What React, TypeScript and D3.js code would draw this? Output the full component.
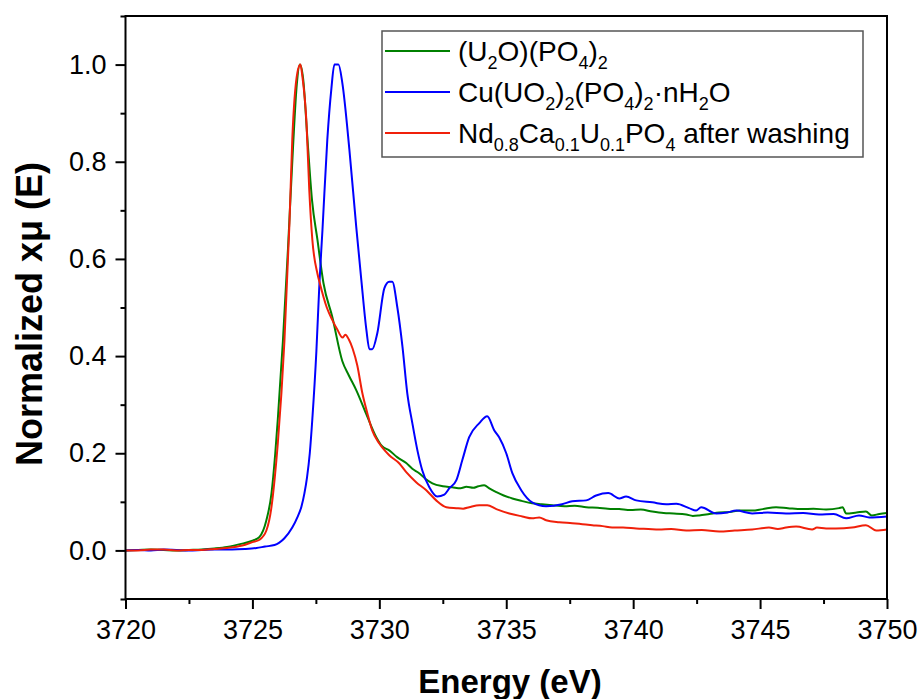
import React, { useEffect, useRef } from 'react';
import * as d3 from 'd3';

// [energy (eV), normalized mu]
const u2oData: [number, number][] = [
  [3720.0, 0.0], [3720.5, 0.001], [3721.0, 0.002], [3721.5, 0.001], [3722.0, 0.0], [3722.5, 0.001],
  [3723.0, 0.002], [3723.5, 0.004], [3724.0, 0.007], [3724.6, 0.014], [3725.0, 0.02], [3725.28, 0.028],
  [3725.55, 0.062], [3725.75, 0.117], [3725.9, 0.2], [3726.0, 0.27], [3726.2, 0.43], [3726.4, 0.62],
  [3726.6, 0.83], [3726.75, 0.96], [3726.87, 1.0], [3727.0, 0.97], [3727.17, 0.845], [3727.35, 0.72],
  [3727.56, 0.64], [3727.8, 0.55], [3728.15, 0.48], [3728.54, 0.39], [3728.8, 0.36], [3729.09, 0.33],
  [3729.49, 0.28], [3729.88, 0.233], [3730.1, 0.215], [3730.39, 0.206], [3730.7, 0.192], [3731.06, 0.18],
  [3731.3, 0.168], [3731.57, 0.159], [3731.8, 0.148], [3732.09, 0.138], [3732.5, 0.132], [3732.87, 0.13],
  [3733.2, 0.128], [3733.43, 0.131], [3733.7, 0.129], [3733.9, 0.132], [3734.13, 0.134], [3734.35, 0.127],
  [3734.61, 0.12], [3734.9, 0.113], [3735.24, 0.107], [3735.6, 0.102], [3736.02, 0.097], [3736.4, 0.095],
  [3736.81, 0.093], [3737.3, 0.091], [3737.7, 0.092], [3738.15, 0.089], [3738.6, 0.088], [3739.0, 0.086],
  [3739.45, 0.085], [3739.9, 0.083], [3740.3, 0.084], [3740.75, 0.08], [3741.2, 0.077], [3741.6, 0.076],
  [3742.09, 0.074], [3742.35, 0.071], [3742.6, 0.072], [3743.0, 0.075], [3743.39, 0.078], [3743.8, 0.079],
  [3744.2, 0.082], [3744.69, 0.082], [3745.1, 0.085], [3745.63, 0.089], [3746.1, 0.087], [3746.65, 0.085],
  [3747.1, 0.086], [3747.6, 0.084], [3748.11, 0.087], [3748.25, 0.089], [3748.39, 0.076], [3748.8, 0.078],
  [3749.17, 0.08], [3749.4, 0.072], [3749.7, 0.075], [3750.0, 0.077],
];

const cuData: [number, number][] = [
  [3720.0, 0.0], [3720.5, 0.001], [3721.0, 0.0], [3721.5, 0.002], [3722.0, 0.001], [3722.5, 0.0],
  [3723.0, 0.001], [3723.5, 0.002], [3724.2, 0.002], [3724.7, 0.003], [3725.16, 0.005], [3725.5, 0.008],
  [3725.87, 0.011], [3726.06, 0.016], [3726.26, 0.025], [3726.57, 0.047], [3726.77, 0.068], [3726.93, 0.09],
  [3727.05, 0.118], [3727.15, 0.15], [3727.26, 0.2], [3727.36, 0.27], [3727.52, 0.41], [3727.64, 0.55],
  [3727.76, 0.66], [3727.95, 0.845], [3728.11, 0.95], [3728.23, 1.0], [3728.39, 1.0], [3728.54, 0.963],
  [3728.82, 0.825], [3729.09, 0.666], [3729.29, 0.557], [3729.49, 0.454], [3729.61, 0.414], [3729.72, 0.414],
  [3729.92, 0.447], [3730.2, 0.54], [3730.39, 0.553], [3730.51, 0.553], [3730.71, 0.5], [3730.91, 0.42],
  [3731.1, 0.324], [3731.3, 0.262], [3731.5, 0.206], [3731.69, 0.165], [3731.97, 0.13], [3732.28, 0.111],
  [3732.56, 0.115], [3732.76, 0.128], [3733.03, 0.144], [3733.27, 0.186], [3733.54, 0.233], [3733.94, 0.262],
  [3734.25, 0.276], [3734.53, 0.247], [3734.72, 0.233], [3735.0, 0.2], [3735.24, 0.159], [3735.59, 0.124],
  [3736.02, 0.099], [3736.57, 0.091], [3737.2, 0.095], [3737.6, 0.101], [3738.15, 0.103], [3738.54, 0.113],
  [3739.02, 0.118], [3739.45, 0.107], [3739.72, 0.111], [3740.12, 0.103], [3740.75, 0.099], [3741.3, 0.095],
  [3741.7, 0.096], [3742.2, 0.087], [3742.48, 0.082], [3742.68, 0.089], [3743.27, 0.076], [3743.7, 0.078],
  [3744.06, 0.082], [3744.69, 0.076], [3745.3, 0.078], [3746.02, 0.076], [3746.7, 0.077], [3747.32, 0.074],
  [3747.9, 0.075], [3748.39, 0.066], [3748.9, 0.072], [3749.3, 0.068], [3750.0, 0.07],
];

const ndData: [number, number][] = [
  [3720.0, 0.0], [3720.5, 0.0], [3721.0, 0.002], [3721.5, 0.002], [3722.0, 0.0], [3722.5, 0.001],
  [3723.0, 0.001], [3723.5, 0.003], [3724.0, 0.005], [3724.6, 0.01], [3725.0, 0.017], [3725.28, 0.022],
  [3725.55, 0.041], [3725.75, 0.089], [3725.87, 0.144], [3726.0, 0.22], [3726.26, 0.43], [3726.46, 0.674],
  [3726.57, 0.845], [3726.77, 0.983], [3726.89, 1.0], [3726.97, 0.975], [3727.13, 0.88], [3727.24, 0.742],
  [3727.36, 0.64], [3727.56, 0.57], [3727.64, 0.553], [3727.93, 0.5], [3728.15, 0.474], [3728.35, 0.454],
  [3728.55, 0.438], [3728.66, 0.444], [3728.8, 0.434], [3728.95, 0.415], [3729.13, 0.381],
  [3729.33, 0.324], [3729.53, 0.282], [3729.72, 0.247], [3730.0, 0.22], [3730.39, 0.196], [3730.79, 0.179],
  [3731.06, 0.161], [3731.46, 0.14], [3731.85, 0.124], [3732.24, 0.103], [3732.64, 0.089], [3733.03, 0.087],
  [3733.3, 0.086], [3733.54, 0.089], [3733.94, 0.093], [3734.25, 0.093], [3734.61, 0.085], [3735.12, 0.076],
  [3735.63, 0.07], [3736.02, 0.066], [3736.3, 0.068], [3736.57, 0.062], [3737.09, 0.058], [3737.6, 0.056],
  [3738.0, 0.054], [3738.39, 0.052], [3738.8, 0.05], [3739.17, 0.047], [3739.6, 0.047], [3740.12, 0.045],
  [3740.6, 0.044], [3741.02, 0.043], [3741.5, 0.044], [3742.09, 0.041], [3742.7, 0.042], [3743.39, 0.039],
  [3744.0, 0.041], [3744.69, 0.043], [3745.35, 0.047], [3745.7, 0.044], [3746.02, 0.047], [3746.42, 0.049],
  [3747.05, 0.043], [3747.24, 0.047], [3747.6, 0.045], [3747.99, 0.045], [3748.62, 0.047], [3749.17, 0.052],
  [3749.57, 0.041], [3750.0, 0.043],
];

const xTicks = [3720, 3725, 3730, 3735, 3740, 3745, 3750];
const yTicks = [0.0, 0.2, 0.4, 0.6, 0.8, 1.0];

// legend labels: [text, isSubscript]
const legendLabels: [string, boolean][][] = [
  [['(U', false], ['2', true], ['O)(PO', false], ['4', true], [')', false], ['2', true]],
  [['Cu(UO', false], ['2', true], [')', false], ['2', true], ['(PO', false], ['4', true], [')', false], ['2', true], ['·nH', false], ['2', true], ['O', false]],
  [['Nd', false], ['0.8', true], ['Ca', false], ['0.1', true], ['U', false], ['0.1', true], ['PO', false], ['4', true], [' after washing', false]],
];
const seriesColors = ['#008000', '#0000ff', '#f0200a'];

const FONT = '"Liberation Sans", Arial, sans-serif';

const App = () => {
  const ref = useRef<SVGSVGElement>(null);

  useEffect(() => {
    const svg = d3.select(ref.current);
    svg.selectAll('*').remove();

    const left = 125.5;
    const right = 887;
    const top = 16;
    const bottom = 599;

    const x = d3.scaleLinear().domain([3720, 3750]).range([left, right]);
    const y = d3.scaleLinear().domain([-0.1, 1.1]).range([bottom, top]);

    const plot = svg.append('g');

    const line = d3.line<[number, number]>()
      .x(d => x(d[0]))
      .y(d => y(d[1]))
      .curve(d3.curveMonotoneX);

    [u2oData, cuData, ndData].forEach((data, i) => {
      plot.append('path')
        .datum(data)
        .attr('fill', 'none')
        .attr('stroke', seriesColors[i])
        .attr('stroke-width', 2)
        .attr('stroke-linejoin', 'round')
        .attr('d', line);
    });

    // frame
    svg.append('rect')
      .attr('x', left)
      .attr('y', top)
      .attr('width', right - left)
      .attr('height', bottom - top)
      .attr('fill', 'none')
      .attr('stroke', '#000')
      .attr('stroke-width', 2);

    // x axis
    const xAxis = svg.append('g')
      .attr('transform', `translate(0, ${bottom})`)
      .call(d3.axisBottom(x).tickValues(xTicks).tickSize(10).tickPadding(11).tickFormat(d3.format('d')));
    svg.append('g')
      .attr('transform', `translate(0, ${bottom})`)
      .call(d3.axisBottom(x).tickValues(d3.range(3722.5, 3750, 5)).tickSize(5).tickFormat(() => ''))
      .select('.domain').remove();

    // y axis
    const yAxis = svg.append('g')
      .attr('transform', `translate(${left}, 0)`)
      .call(d3.axisLeft(y).tickValues(yTicks).tickSize(10).tickPadding(9).tickFormat(d3.format('.1f')));
    svg.append('g')
      .attr('transform', `translate(${left}, 0)`)
      .call(d3.axisLeft(y).tickValues([-0.1, 0.1, 0.3, 0.5, 0.7, 0.9, 1.1]).tickSize(5).tickFormat(() => ''))
      .select('.domain').remove();

    [xAxis, yAxis].forEach(a => {
      a.select('.domain').remove();
      a.selectAll('text')
        .attr('fill', '#000')
        .style('font-family', FONT)
        .style('font-size', '27px');
    });
    svg.selectAll('.tick line').attr('stroke', '#000').attr('stroke-width', 2);

    // axis titles
    svg.append('text')
      .attr('x', 510)
      .attr('y', 693)
      .attr('text-anchor', 'middle')
      .style('font-family', FONT)
      .style('font-weight', 'bold')
      .style('font-size', '33px')
      .text('Energy (eV)');

    svg.append('text')
      .attr('transform', 'translate(42, 314) rotate(-90)')
      .attr('text-anchor', 'middle')
      .style('font-family', FONT)
      .style('font-weight', 'bold')
      .style('font-size', '36px')
      .text('Normalized xμ (E)');

    // legend
    const legend = svg.append('g');
    legend.append('rect')
      .attr('x', 382)
      .attr('y', 31)
      .attr('width', 481)
      .attr('height', 126)
      .attr('fill', '#fff')
      .attr('stroke', '#555')
      .attr('stroke-width', 1.5);

    legendLabels.forEach((parts, i) => {
      const ly = 51 + i * 41;
      legend.append('line')
        .attr('x1', 385)
        .attr('x2', 450)
        .attr('y1', ly)
        .attr('y2', ly)
        .attr('stroke', seriesColors[i])
        .attr('stroke-width', 2);
      const t = legend.append('text')
        .attr('x', 458)
        .attr('y', ly + 10)
        .style('font-family', FONT)
        .style('font-size', '28px');
      let shifted = false;
      parts.forEach(([s, sub]) => {
        const ts = t.append('tspan').text(s);
        if (sub && !shifted) { ts.attr('dy', 8); shifted = true; }
        if (!sub && shifted) { ts.attr('dy', -8); shifted = false; }
        if (sub) ts.style('font-size', '18px');
      });
    });
  }, []);

  return (
    <svg
      ref={ref}
      width={920}
      height={699}
      style={{ position: 'absolute', left: 0, top: 0, background: '#fff' }}
    />
  );
};

export default App;
